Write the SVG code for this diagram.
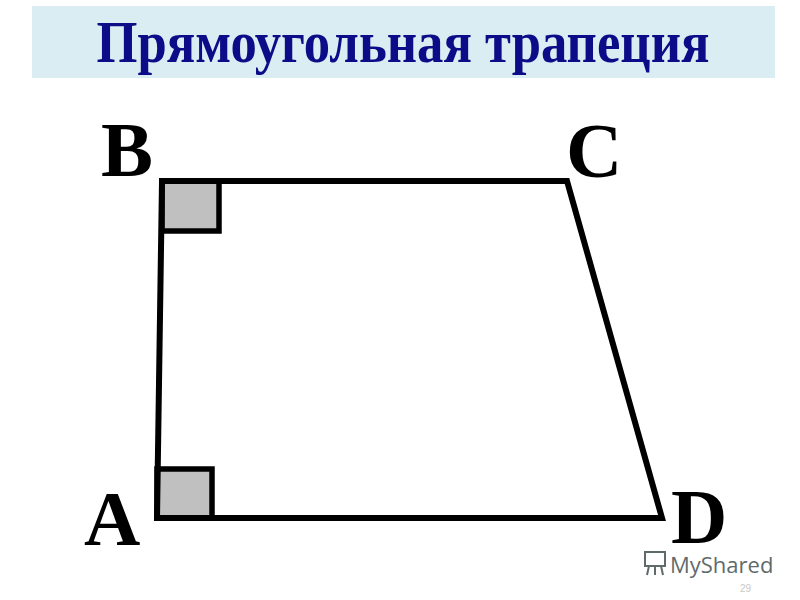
<svg xmlns="http://www.w3.org/2000/svg" width="800" height="600" viewBox="0 0 800 600">
<style>
.edge{fill:none;stroke:#000;stroke-width:6;stroke-linejoin:miter;stroke-linecap:square}
.sq{fill:#c0c0c0;stroke:#000;stroke-width:5.5;stroke-linejoin:miter}
.lbl{font-family:"Liberation Serif","Times New Roman",serif;font-weight:bold;font-size:78px;fill:#000}
</style>
<rect width="800" height="600" fill="#fff"/>
<g id="title">
<rect x="32" y="6" width="743" height="72" fill="#daedf2"/>
<text x="403" y="62" text-anchor="middle" font-family="Liberation Serif, 'Times New Roman', serif" font-weight="bold" font-size="59" fill="#0c0c88" textLength="613" lengthAdjust="spacingAndGlyphs">Прямоугольная трапеция</text>
</g>
<g id="angles">
<rect class="sq" x="162" y="181" width="57" height="50"/>
<rect class="sq" x="157" y="469" width="55" height="49"/>
</g>
<g id="connectors">
<polygon class="edge" points="162,181 567,181 662,518 157,518"/>
</g>
<g id="labels">
<text class="lbl" x="101" y="176">B</text>
<text class="lbl" x="566" y="177">C</text>
<text class="lbl" x="84" y="545">A</text>
<text class="lbl" x="671" y="543">D</text>
</g>
<g id="watermark" fill="#5f6b6b">
<g stroke="#5f6b6b" stroke-width="2" fill="none">
<rect x="645" y="552" width="20" height="14"/>
<line x1="649" y1="566" x2="647" y2="575"/>
<line x1="655" y1="566" x2="655" y2="575"/>
<line x1="661" y1="566" x2="663" y2="575"/>
</g>
<text x="670" y="573" font-family="Open Sans, sans-serif" font-size="22" fill="#5f6b6b">MyShared</text>
<text x="740" y="592" font-family="Liberation Sans, sans-serif" font-size="10" fill="#c8c8c8">29</text>
</g>
</svg>
